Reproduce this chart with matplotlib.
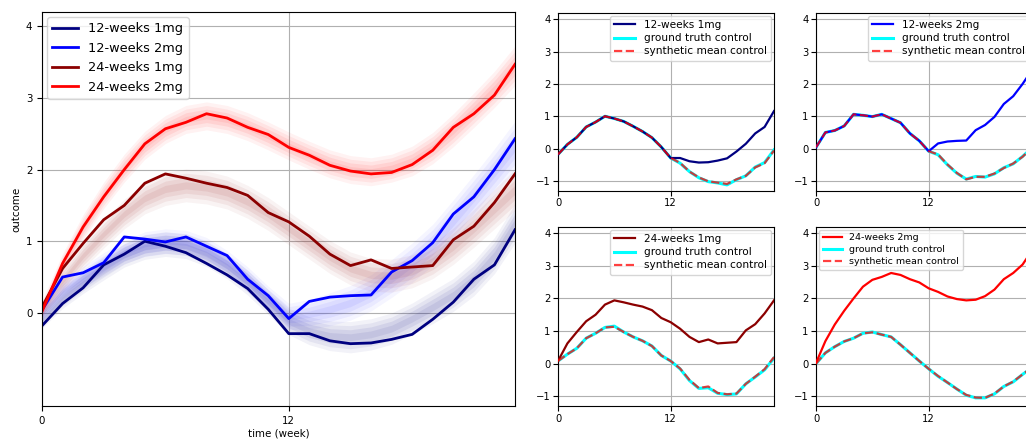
import matplotlib
matplotlib.use("Agg")
import matplotlib.pyplot as plt
import numpy as np

weeks = list(range(24))

# observed outcomes (thick lines)
w12_1mg = [-0.18, 0.13, 0.35, 0.67, 0.82, 1.00, 0.93, 0.84, 0.69, 0.53, 0.34, 0.05,
           -0.29, -0.29, -0.39, -0.43, -0.42, -0.37, -0.30, -0.09, 0.15, 0.47, 0.67, 1.16]
w12_2mg = [0.04, 0.50, 0.56, 0.70, 1.06, 1.03, 0.99, 1.06, 0.93, 0.80, 0.47, 0.24,
           -0.08, 0.16, 0.22, 0.24, 0.25, 0.57, 0.73, 0.98, 1.38, 1.62, 2.00, 2.43]
w24_1mg = [0.08, 0.62, 0.97, 1.30, 1.50, 1.81, 1.94, 1.88, 1.81, 1.75, 1.64, 1.40,
           1.27, 1.07, 0.82, 0.66, 0.74, 0.62, 0.64, 0.66, 1.02, 1.21, 1.54, 1.94]
w24_2mg = [0.02, 0.69, 1.20, 1.62, 2.00, 2.36, 2.57, 2.66, 2.78, 2.72, 2.59, 2.49,
           2.31, 2.20, 2.06, 1.98, 1.94, 1.96, 2.07, 2.27, 2.59, 2.78, 3.04, 3.47]

# synthetic sample bands (centre and half-width)
band_c_12_1 = [-0.10, 0.20, 0.42, 0.62, 0.80, 0.92, 0.96, 0.93, 0.82, 0.65, 0.42, 0.15,
               -0.12, -0.25, -0.32, -0.34, -0.30, -0.22, -0.08, 0.08, 0.25, 0.48, 0.80, 1.25]
band_s_12_1 = [0.10, 0.12, 0.13, 0.14, 0.14, 0.15, 0.15, 0.15, 0.15, 0.15, 0.15, 0.15,
               0.16, 0.17, 0.18, 0.19, 0.19, 0.19, 0.19, 0.20, 0.20, 0.21, 0.22, 0.24]
band_c_12_2 = [0.00, 0.30, 0.50, 0.68, 0.85, 0.96, 1.00, 0.98, 0.88, 0.70, 0.47, 0.20,
               -0.05, -0.02, 0.05, 0.14, 0.28, 0.48, 0.70, 0.95, 1.28, 1.62, 1.97, 2.33]
band_s_12_2 = [0.10, 0.12, 0.13, 0.14, 0.14, 0.15, 0.15, 0.15, 0.15, 0.15, 0.15, 0.15,
               0.16, 0.18, 0.20, 0.21, 0.22, 0.23, 0.24, 0.25, 0.26, 0.27, 0.28, 0.30]
band_c_24_1 = [0.05, 0.45, 0.80, 1.10, 1.38, 1.60, 1.73, 1.78, 1.75, 1.68, 1.55, 1.38,
               1.18, 0.98, 0.78, 0.62, 0.53, 0.52, 0.58, 0.72, 0.93, 1.18, 1.45, 1.72]
band_s_24_1 = [0.10, 0.14, 0.16, 0.17, 0.18, 0.19, 0.20, 0.20, 0.20, 0.20, 0.20, 0.20,
               0.20, 0.20, 0.20, 0.20, 0.20, 0.20, 0.20, 0.21, 0.22, 0.23, 0.24, 0.25]
band_c_24_2 = [0.05, 0.68, 1.20, 1.64, 2.02, 2.34, 2.56, 2.70, 2.75, 2.70, 2.60, 2.47,
               2.33, 2.20, 2.08, 2.00, 1.97, 2.02, 2.12, 2.30, 2.55, 2.83, 3.12, 3.45]
band_s_24_2 = [0.10, 0.13, 0.15, 0.16, 0.17, 0.17, 0.17, 0.17, 0.17, 0.17, 0.17, 0.17,
               0.17, 0.17, 0.17, 0.17, 0.17, 0.17, 0.18, 0.19, 0.20, 0.21, 0.22, 0.24]

# ground truth controls and synthetic mean controls
gt_12_1 = [-0.18, 0.13, 0.35, 0.67, 0.82, 1.00, 0.93, 0.84, 0.69, 0.53, 0.34, 0.05,
           -0.29, -0.45, -0.71, -0.90, -1.02, -1.06, -1.12, -0.96, -0.84, -0.57, -0.43, -0.04]
sy_12_1 = [-0.18, 0.13, 0.35, 0.67, 0.82, 1.00, 0.93, 0.84, 0.69, 0.53, 0.34, 0.05,
           -0.29, -0.44, -0.71, -0.89, -1.01, -1.05, -1.09, -0.95, -0.84, -0.58, -0.45, -0.06]
gt_12_2 = [0.04, 0.50, 0.56, 0.70, 1.06, 1.03, 0.99, 1.06, 0.93, 0.80, 0.47, 0.24,
           -0.08, -0.19, -0.50, -0.76, -0.94, -0.86, -0.88, -0.78, -0.59, -0.47, -0.24, 0.02]
sy_12_2 = [0.04, 0.50, 0.56, 0.70, 1.06, 1.03, 0.99, 1.06, 0.93, 0.80, 0.47, 0.24,
           -0.08, -0.18, -0.49, -0.75, -0.95, -0.87, -0.87, -0.77, -0.60, -0.46, -0.25, 0.03]
gt_24_1 = [0.08, 0.29, 0.47, 0.78, 0.93, 1.11, 1.15, 0.97, 0.82, 0.70, 0.54, 0.25,
           0.08, -0.16, -0.52, -0.76, -0.74, -0.91, -0.95, -0.93, -0.62, -0.41, -0.19, 0.17]
sy_24_1 = [0.08, 0.29, 0.47, 0.78, 0.93, 1.11, 1.13, 0.97, 0.82, 0.70, 0.54, 0.25,
           0.08, -0.15, -0.50, -0.75, -0.70, -0.90, -0.94, -0.92, -0.62, -0.40, -0.17, 0.20]
gt_24_2 = [0.00, 0.33, 0.52, 0.68, 0.78, 0.93, 0.97, 0.89, 0.82, 0.58, 0.33, 0.08,
           -0.16, -0.39, -0.58, -0.78, -0.97, -1.05, -1.05, -0.93, -0.70, -0.56, -0.33, -0.12]
sy_24_2 = [0.00, 0.33, 0.52, 0.68, 0.78, 0.93, 0.96, 0.89, 0.82, 0.58, 0.33, 0.08,
           -0.16, -0.38, -0.58, -0.78, -0.96, -1.04, -1.05, -0.92, -0.70, -0.55, -0.33, -0.12]

labels = ["12-weeks 1mg", "12-weeks 2mg", "24-weeks 1mg", "24-weeks 2mg"]
colors = ["navy", "blue", "darkred", "red"]
series = [w12_1mg, w12_2mg, w24_1mg, w24_2mg]
band_c = [band_c_12_1, band_c_12_2, band_c_24_1, band_c_24_2]
band_s = [band_s_12_1, band_s_12_2, band_s_24_1, band_s_24_2]
gts = [gt_12_1, gt_12_2, gt_24_1, gt_24_2]
sys_ = [sy_12_1, sy_12_2, sy_24_1, sy_24_2]

fig = plt.figure(figsize=(10.26, 4.42), dpi=100)
W, H = 1026.0, 442.0

def pos(x0, y0, x1, y1):
    return [x0 / W, 1 - y1 / H, (x1 - x0) / W, (y1 - y0) / H]

YLIM = (-1.3, 4.2)
XLIM = (0, 23)
grid_kw = dict(color="#b0b0b0", linewidth=0.8)

ax = fig.add_axes(pos(42, 12, 515, 406))
x = np.array(weeks)
band_alpha = {"navy": 1.0, "blue": 0.8, "darkred": 0.95, "red": 1.0}
for c, s, col in zip(band_c, band_s, colors):
    c = np.array(c); s = np.array(s)
    m = band_alpha[col]
    for k, a in [(1.15, 0.05), (0.85, 0.06), (0.55, 0.07), (0.25, 0.07)]:
        ax.fill_between(x, c - k * s, c + k * s, color=col, alpha=a * m, linewidth=0)
for y, col, lab in zip(series, colors, labels):
    ax.plot(weeks, y, color=col, lw=2.0, label=lab)
ax.set_xlim(*XLIM)
ax.set_ylim(*YLIM)
ax.set_xticks([0, 12])
ax.set_yticks([0, 1, 2, 3, 4])
ax.grid(True, **grid_kw)
ax.set_axisbelow(True)
ax.tick_params(labelsize=7.4)
ax.set_xlabel("time (week)", fontsize=7.4, labelpad=2)
ax.set_ylabel("outcome", fontsize=7.4, labelpad=3)
ax.legend(loc="upper left", fontsize=9.3, handlelength=2.0, borderaxespad=0.4,
          labelspacing=0.5)

small_pos = [pos(558, 12.7, 774, 190.7), pos(816, 12.7, 1032, 190.7),
             pos(558, 226.7, 774, 406), pos(816, 226.7, 1032, 406)]
leg_locs = ["upper right", "upper right", "upper right", "upper left"]
leg_fs = [7.6, 7.6, 7.6, 6.8]
for i in range(4):
    a = fig.add_axes(small_pos[i])
    a.plot(weeks, gts[i], color="cyan", lw=2.2, label="ground truth control", zorder=2)
    a.plot(weeks, series[i], color=colors[i], lw=1.6, label=labels[i], zorder=3)
    a.plot(weeks, sys_[i], color="red", lw=1.6, ls="--", alpha=0.75,
           label="synthetic mean control", zorder=4)
    a.set_xlim(*XLIM)
    a.set_ylim(*YLIM)
    a.set_xticks([0, 12])
    a.set_yticks([-1, 0, 1, 2, 3, 4])
    a.grid(True, **grid_kw)
    a.set_axisbelow(True)
    a.tick_params(labelsize=7.2, pad=2)
    h, l = a.get_legend_handles_labels()
    order = [1, 0, 2]
    a.legend([h[j] for j in order], [l[j] for j in order], loc=leg_locs[i],
             fontsize=leg_fs[i], borderaxespad=0.3, labelspacing=0.3,
             handlelength=2.0)

fig.savefig("out.png", dpi=100)
